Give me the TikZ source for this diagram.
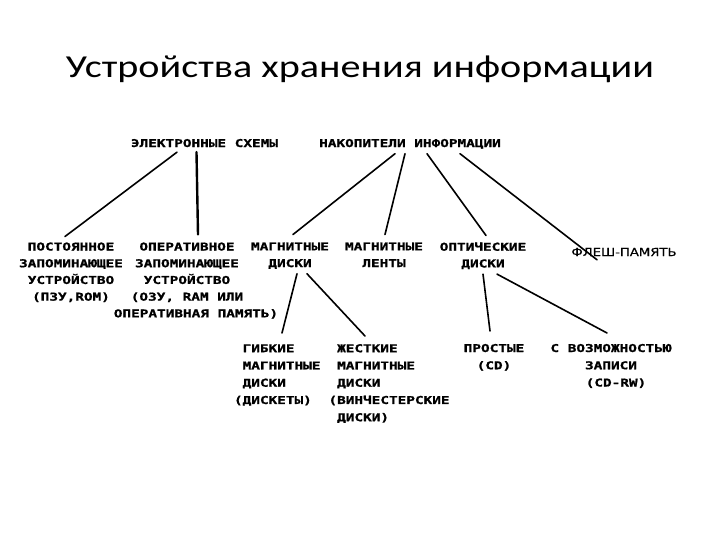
\documentclass[tikz,border=0pt]{standalone}
\usepackage{fontspec}
\setmainfont{Carlito}
\newfontfamily\titlefont[FakeStretch=1.255]{Carlito}
\newfontfamily\blockfont[FakeStretch=1.33,FakeBold=1.2]{DejaVu Sans Mono Bold}
\newfontfamily\flashfont[FakeStretch=1.2,FakeBold=0.6]{DejaVu Sans}
\begin{document}
\begin{tikzpicture}[x=1pt,y=-1pt,
  box/.style={inner sep=0pt,outer sep=0pt,anchor=north,align=center,
    font=\blockfont\fontsize{10.8}{16.7}\selectfont},
  lbox/.style={box,anchor=north west,align=left,
    font=\blockfont\fontsize{10.8}{17.25}\selectfont},
  link/.style={line width=1.6pt,line cap=round}]
\useasboundingbox (0,0) rectangle (720,540);
\fill[white] (0,0) rectangle (720,540);
\node[inner sep=0pt,anchor=base,font=\titlefont\fontsize{32}{36}\selectfont] (title) at (360,77.5) {Устройства хранения информации};
% level 1
\node[box] (es) at (204.5,139) {ЭЛЕКТРОННЫЕ СХЕМЫ};
\node[box] (ni) at (410,139) {НАКОПИТЕЛИ ИНФОРМАЦИИ};
% level 2
\node[box] (pzu) at (71,242.5) {ПОСТОЯННОЕ\\ЗАПОМИНАЮЩЕЕ\\УСТРОЙСТВО\\(ПЗУ,ROM)};
\node[box] (ozu) at (187,242.5) {ОПЕРАТИВНОЕ\\ЗАПОМИНАЮЩЕЕ\\УСТРОЙСТВО\\(ОЗУ, RAM ИЛИ\\\hspace*{18pt}ОПЕРАТИВНАЯ ПАМЯТЬ)};
\node[box] (md) at (290,242.5) {МАГНИТНЫЕ\\ДИСКИ};
\node[box] (ml) at (384,242.5) {МАГНИТНЫЕ\\ЛЕНТЫ};
\node[box] (od) at (483,242.5) {ОПТИЧЕСКИЕ\\ДИСКИ};
\node[inner sep=0pt,anchor=base,font=\flashfont\fontsize{11}{13}\selectfont] (fl) at (624,256) {ФЛЕШ-ПАМЯТЬ};
% level 3
\node[lbox] (gib) at (234,344) {\phantom{(}ГИБКИЕ\\\phantom{(}МАГНИТНЫЕ\\\phantom{(}ДИСКИ\\(ДИСКЕТЫ)};
\node[lbox] (zh) at (328.5,344) {\phantom{(}ЖЕСТКИЕ\\\phantom{(}МАГНИТНЫЕ\\\phantom{(}ДИСКИ\\(ВИНЧЕСТЕРСКИЕ\\\phantom{(}ДИСКИ)};
\node[box,font=\blockfont\fontsize{10.8}{17.25}\selectfont] (pr) at (494,344) {ПРОСТЫЕ\\(CD)};
\node[box,font=\blockfont\fontsize{10.8}{17.25}\selectfont] (zap) at (611,344) {С ВОЗМОЖНОСТЬЮ\\ЗАПИСИ\\\hspace*{10pt}(CD-RW)};
% connectors
\draw[link] ([xshift=-27.5pt,yshift=-5pt]es.south) -- ([xshift=-6pt,yshift=6pt]pzu.north);
\draw[link,line width=2.4pt] ([xshift=-8pt,yshift=-5pt]es.south) -- ([xshift=11pt,yshift=8pt]ozu.north);
\draw[link] ([xshift=-15pt,yshift=-5pt]ni.south) -- ([xshift=3pt,yshift=8pt]md.north);
\draw[link] ([xshift=-5pt,yshift=-5pt]ni.south) -- ([xshift=1pt,yshift=8pt]ml.north);
\draw[link] ([xshift=17pt,yshift=-5pt]ni.south) -- ([xshift=3pt,yshift=7pt]od.north);
\draw[link] ([xshift=50pt,yshift=-5pt]ni.south) -- ([xshift=-27pt,yshift=-12pt]fl.north);
\draw[link] ([xshift=7pt,yshift=-5pt]md.south) -- ([xshift=48pt,yshift=11pt]gib.north west);
\draw[link] ([xshift=17pt,yshift=-5pt]md.south) -- ([xshift=36.5pt,yshift=8pt]zh.north west);
\draw[link] ([xshift=0pt,yshift=-5pt]od.south) -- ([xshift=-4pt,yshift=13pt]pr.north);
\draw[link] ([xshift=14pt,yshift=-5pt]od.south) -- ([xshift=-4pt,yshift=11pt]zap.north);
\end{tikzpicture}
\end{document}
